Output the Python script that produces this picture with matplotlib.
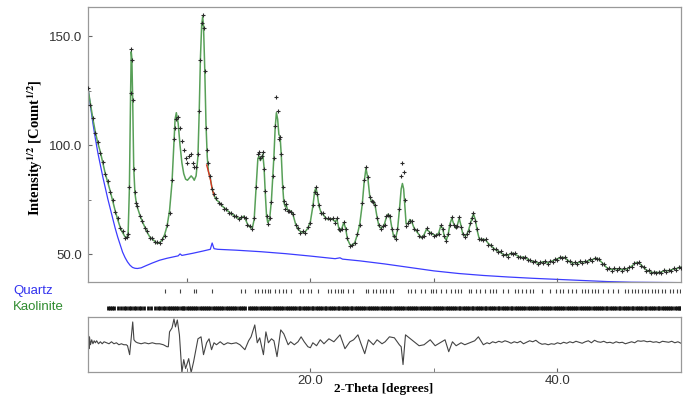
import numpy as np
import matplotlib.pyplot as plt
from matplotlib.ticker import FormatStrFormatter

plt.rcParams['font.family'] = ['Liberation Sans', 'DejaVu Sans']
plt.rcParams['mathtext.fontset'] = 'stix'

# observed / calculated profile (sqrt intensity)
two_theta = [
    2.0, 2.2, 2.4, 2.6, 2.8, 3.0, 3.2, 3.4, 3.6, 3.8,
    4.0, 4.2, 4.4, 4.6, 4.8, 5.0, 5.15, 5.25, 5.35, 5.45,
    5.5, 5.55, 5.62, 5.7, 5.8, 5.9, 6.0, 6.2, 6.4, 6.6,
    6.8, 7.0, 7.2, 7.4, 7.6, 7.8, 8.0, 8.2, 8.4, 8.6,
    8.8, 8.95, 9.05, 9.15, 9.3, 9.45, 9.6, 9.75, 9.9, 10.05,
    10.2, 10.35, 10.5, 10.6, 10.75, 10.9, 11.0, 11.1, 11.2, 11.28,
    11.35, 11.45, 11.55, 11.65, 11.75, 11.9, 12.05, 12.2, 12.4, 12.6,
    12.8, 13.0, 13.2, 13.4, 13.6, 13.8, 14.0, 14.2, 14.4, 14.6,
    14.75, 14.9, 15.1, 15.3, 15.45, 15.6, 15.75, 15.85, 15.95, 16.05,
    16.15, 16.25, 16.35, 16.45, 16.55, 16.7, 16.85, 16.95, 17.05, 17.15,
    17.25, 17.35, 17.45, 17.55, 17.65, 17.75, 17.85, 17.95, 18.05, 18.15,
    18.3, 18.45, 18.6, 18.8, 19.0, 19.2, 19.4, 19.6, 19.8, 20.0,
    20.2, 20.35, 20.45, 20.55, 20.7, 20.85, 21.0, 21.2, 21.4, 21.6,
    21.8, 22.0, 22.15, 22.3, 22.4, 22.55, 22.7, 22.85, 23.0, 23.2,
    23.4, 23.6, 23.8, 24.0, 24.2, 24.35, 24.5, 24.65, 24.8, 24.95,
    25.1, 25.25, 25.4, 25.55, 25.7, 25.85, 26.0, 26.15, 26.3, 26.45,
    26.6, 26.75, 26.9, 27.05, 27.2, 27.35, 27.45, 27.55, 27.65, 27.75,
    27.9, 28.05, 28.2, 28.4, 28.6, 28.8, 29.0, 29.2, 29.4, 29.6,
    29.8, 30.0, 30.2, 30.4, 30.55, 30.7, 30.85, 31.0, 31.15, 31.3,
    31.45, 31.6, 31.75, 31.9, 32.05, 32.2, 32.35, 32.5, 32.65, 32.8,
    32.95, 33.1, 33.2, 33.35, 33.5, 33.65, 33.8, 34.0, 34.2, 34.4,
    34.6, 34.8, 35.0, 35.2, 35.4, 35.6, 35.8, 36.0, 36.2, 36.4,
    36.6, 36.8, 37.0, 37.2, 37.4, 37.6, 37.8, 38.0, 38.2, 38.4,
    38.6, 38.8, 39.0, 39.2, 39.4, 39.6, 39.8, 40.0, 40.2, 40.4,
    40.6, 40.8, 41.0, 41.2, 41.4, 41.6, 41.8, 42.0, 42.2, 42.4,
    42.6, 42.8, 43.0, 43.2, 43.4, 43.6, 43.8, 44.0, 44.2, 44.4,
    44.6, 44.8, 45.0, 45.2, 45.4, 45.6, 45.8, 46.0, 46.2, 46.4,
    46.6, 46.8, 47.0, 47.2, 47.4, 47.6, 47.8, 48.0, 48.2, 48.4,
    48.6, 48.8, 49.0, 49.2, 49.4, 49.6, 49.8, 50.0,
]
y_calc = [
    126, 119, 112, 106, 101, 97, 92, 87, 83, 79,
    74.5, 70, 66, 62.5, 60, 58, 57.5, 60, 80, 125,
    143, 140, 120, 90, 78, 74, 71.5, 68, 65, 62.5,
    60, 58, 57, 56, 55, 55.5, 56.5, 59, 63, 70,
    83, 100, 112, 115, 110, 100, 92, 87, 84.5, 84,
    85, 86, 85, 84, 86, 95, 115, 140, 155, 159,
    155, 135, 110, 95, 88, 85, 80, 77, 75, 74,
    72.5, 71.5, 70.5, 69.5, 68.5, 68, 67, 66.5, 66.5, 67.5,
    66, 64, 62.5, 62, 66, 80, 94, 95, 93, 94,
    96, 90, 78, 68, 64.5, 66, 75, 85, 95, 108,
    115, 112, 105, 104, 95, 82, 74, 72, 72.5, 70.5,
    69.5, 70, 68, 64, 61.5, 60.5, 60, 60.5, 62, 65,
    72, 79, 80.5, 78, 72, 69.5, 68.5, 67, 66, 66.5,
    66, 65, 66, 62, 60.5, 62, 64.5, 62, 57, 54.5,
    54, 55.5, 59, 64, 73, 83, 89.5, 85, 77, 74,
    74.5, 72, 67, 63, 62, 62.5, 64, 67, 68.5, 67,
    62, 58, 57.5, 61, 70, 80, 82.5, 80, 72, 64,
    64, 66, 65, 62, 60.5, 59, 57.5, 59, 61.5, 60.5,
    59.5, 59, 58.5, 60, 63, 62, 58, 56.5, 59, 64,
    66.5, 64, 62, 63.5, 66.5, 63, 59, 58.5, 59, 61,
    64, 67, 68.5, 66, 61, 57.5, 56.5, 57, 56.5, 55,
    54, 53, 52, 51.5, 50.8, 50, 49.5, 49.5, 50.3, 50.5,
    50, 49.2, 48.5, 48.8, 48.4, 47.8, 47, 46.8, 46.5, 46,
    46, 46.6, 46.6, 46, 46.5, 47, 47.5, 48, 48.2, 48.7,
    48.4, 47.5, 46.5, 46, 46.2, 46, 46.4, 46.6, 46.5, 46.8,
    47.2, 47.5, 48, 48.2, 47.4, 46.2, 45, 43.8, 43.2, 43,
    43.2, 43.4, 43.2, 42.9, 43.1, 43.3, 43.8, 44.5, 45.5, 46.3,
    46, 45, 43.8, 42.8, 42.2, 41.8, 41.6, 41.8, 41.6, 41.9,
    42.3, 42.6, 42.4, 42.8, 43.2, 43.4, 43.8, 44.2,
]
y_obs = [
    126.5, 118.5, 112.5, 105.5, 101.5, 96.5, 92.5, 87, 83.5, 78.5,
    75, 69.5, 66.5, 62, 60.5, 57.5, 58, 59.5, 81, 124,
    144, 139, 121, 89, 78.5, 73.5, 72, 67.5, 65.5, 62,
    60.5, 57.5, 57.5, 55.5, 55.5, 55, 57, 58.5, 63.5, 69,
    84, 103, 108, 112, 113, 108, 102, 98, 94, 92,
    95, 96, 92, 90, 90, 96, 116, 139, 156, 160,
    154, 134, 108, 98, 92, 86, 80, 77.5, 76, 73.5,
    73, 71, 71, 69, 69, 67.5, 67.5, 66, 67, 67,
    66.5, 63.5, 63, 61.5, 66.5, 81, 96, 97, 94, 95,
    97, 89, 79, 67.5, 64, 66.5, 74, 86, 94, 109,
    122, 116, 103, 104, 96, 81, 74.5, 71, 73, 70,
    70, 69.5, 68.5, 63.5, 62, 60, 60.5, 60, 62.5, 64.5,
    72.5, 78.5, 81, 77.5, 72.5, 69, 69, 66.5, 66.5, 66,
    66.5, 64.5, 66.5, 61.5, 61, 61.5, 65, 61.5, 57.5, 54,
    54.5, 55, 59.5, 63.5, 73.5, 84, 90, 85.5, 76.5, 74.5,
    74, 72.5, 66.5, 63.5, 61.5, 63, 63.5, 67.5, 68, 67.5,
    61.5, 58.5, 57, 61.5, 71, 86, 92, 88, 75, 63,
    64.5, 65.5, 65.5, 61.5, 61, 58.5, 58, 58.5, 62, 60,
    60, 58.5, 59, 59.5, 63.5, 61.5, 58.5, 56, 59.5, 63.5,
    67, 63.5, 62.5, 63, 67, 62.5, 59.5, 58, 59.5, 60.5,
    64.5, 66.5, 69, 65.5, 61.5, 57, 57, 56.5, 57, 54.5,
    54.5, 52.5, 52.5, 51, 51.3, 49.5, 50, 49, 50.8, 50,
    50.5, 48.7, 49, 48.3, 48.9, 47.3, 47.5, 46.3, 47, 45.5,
    46.5, 46.1, 47.1, 45.5, 47, 46.5, 48, 47.5, 48.7, 48.2,
    48.9, 47, 47, 45.5, 46.7, 45.5, 46.9, 46.1, 47, 46.3,
    47.7, 47, 48.5, 47.7, 47.9, 45.7, 45.5, 43.3, 43.7, 42.5,
    43.7, 42.9, 43.7, 42.4, 43.6, 42.8, 44.3, 44, 46, 45.8,
    46.5, 44.5, 44.3, 42.3, 42.7, 41.3, 42.1, 41.3, 42.1, 41.4,
    42.8, 42.1, 42.9, 42.3, 43.7, 42.9, 44.3, 43.8,
]

# background
bg_theta = [2.0, 2.2, 2.4, 2.6, 2.8, 3.0, 3.2, 3.4, 3.6, 3.8, 4.0, 4.2, 4.4,
            4.6, 4.8, 5.0, 5.2, 5.4, 5.6, 5.8, 6.0, 6.3, 6.7, 7.2, 7.8, 8.4,
            9.3, 9.45, 9.6, 10.5, 11.3, 11.9, 12.05, 12.2, 12.5, 14, 16, 18,
            20, 22, 22.4, 22.6, 24, 26, 28, 30, 32, 34, 36, 38, 40, 42, 44,
            46, 48, 50]
bg_y = [126.5, 118, 110, 103, 96.5, 91, 85.5, 80.5, 75.5, 71, 66.5, 62, 58,
        54.5, 51, 48.5, 46.5, 45, 44, 43.6, 43.5, 43.8, 44.8, 46, 47.3, 48.2,
        49.3, 50.2, 49.5, 50.5, 51.5, 52.3, 55.2, 52.6, 52.3, 51.9, 51.2, 50.3,
        49.2, 48.0, 48.4, 47.8, 47.0, 45.6, 44.0, 42.4, 41.2, 40.3, 39.6, 39.0,
        38.5, 38.0, 37.5, 37.2, 37.1, 37.0]

# short red segment
red_theta = [11.6, 11.75, 11.9, 12.05, 12.2]
red_y = [91, 88, 84.5, 80, 77]

# difference curve
res_theta = [
    2.0, 2.03, 2.08, 2.12, 2.2, 2.3, 2.4, 2.5, 2.6, 2.7, 2.85, 3.0, 3.15, 3.3,
    3.5, 3.7, 3.9, 4.1, 4.3, 4.5, 4.7, 4.9, 5.1, 5.2, 5.37, 5.5, 5.62, 5.72,
    5.85, 6.0, 6.3, 6.6, 6.9, 7.2, 7.5, 7.8, 8.1, 8.4, 8.5, 8.6, 8.8, 8.96,
    9.08, 9.23, 9.4, 9.6, 9.75, 9.9, 10.15, 10.35, 10.55, 10.9, 11.15, 11.35,
    11.6, 11.8, 12.0, 12.2, 12.4, 12.7, 13.0, 13.3, 13.6, 14.0, 14.3, 14.7,
    15.0, 15.2, 15.5, 15.7, 15.9, 16.2, 16.4, 16.6, 16.85, 17.05, 17.3, 17.6,
    17.85, 18.2, 18.4, 18.7, 19.0, 19.25, 19.5, 19.8, 20.0, 20.2, 20.5, 20.8,
    21.1, 21.5, 21.9, 22.4, 22.8, 23.2, 23.5, 23.85, 24.1, 24.4, 24.7, 25.1,
    25.4, 25.8, 26.05, 26.4, 26.8, 27.2, 27.35, 27.5, 27.7, 28.0, 28.4, 28.8,
    29.2, 29.7, 30.1, 30.5, 30.9, 31.2, 31.5, 31.8, 32.2, 32.5, 32.9, 33.3,
    33.6, 34.0, 34.3, 34.5, 34.75, 35.0, 35.25, 35.5, 35.75, 36.0, 36.25,
    36.5, 36.75, 37.0, 37.25, 37.5, 37.75, 38.0, 38.25, 38.5, 38.75, 39.0,
    39.25, 39.5, 39.75, 40.0, 40.25, 40.5, 40.75, 41.0, 41.25, 41.5, 41.75,
    42.0, 42.25, 42.5, 42.75, 43.0, 43.25, 43.5, 43.75, 44.0, 44.25, 44.5,
    44.75, 45.0, 45.25, 45.5, 45.75, 46.0, 46.25, 46.5, 46.75, 47.0, 47.25,
    47.5, 47.75, 48.0, 48.25, 48.5, 48.75, 49.0, 49.25, 49.5, 49.75, 50.0,
]
res_diff = [
    -14, 11, -6, 6, -2, 3, -1, 2, 0, 2, -1, 1, -1, 1,
    0, -1, 1, -1, 0, -2, -1, -2, -2, -3, -12, 5, 21, 3,
    1, 0, -1, 0, -1, 0, -1, -1, -2, -4, -4, 11, 15, 24,
    16, 23, 8, -30, -17, -26, -16, -30, -19, 4, 6, -12,
    0, 4, -7, 0, -2, 1, -2, 0, -1, 0, -2, -7,
    2, 6, 18, 0, 5, -12, 11, 0, 4, 2, -14, 13,
    9, -2, 1, -2, 1, 6, 1, -4, -5, 0, -3, 3,
    -1, 4, 1, 8, -6, 1, 3, 8, -1, -11, 3, -2,
    3, -1, 1, 6, 5, -2, -4, -22, 8, 5, 1, -3,
    -2, 3, -3, 0, 3, -9, 1, -3, 0, -2, 0, 2,
    6, -2, 0, -1, 1, 0, 1.5, 0.5, 2, 1, -0.5,
    1, 0, 1.5, -1, 0.5, 2, 1, 2.5, 0, -1.5, -1,
    -2, -1, -1.5, 0, -1, 0.5, -0.5, 1, 0, 1.5, 0.5,
    -0.5, 1, 2, 0, 2.5, 1, 0.5, 1.5, 0, 0.5, -0.5,
    1, 0, 0.5, -1, 0, 1, 0, 2, 1.5, 2, 1,
    1.5, 0.5, 1, 0, 1.5, 1, 0.5, 1.5, 0, 1, -0.5,
]

# reflection positions
quartz = [8.26, 9.48, 10.55, 10.75, 12.05, 14.4, 14.7, 15.5, 15.8, 16.05,
          16.3, 16.55, 16.7, 17.1, 17.5, 17.8, 18.05, 18.46, 19.13, 19.4,
          19.81, 20.08, 20.62, 21.43, 21.7, 21.97, 22.24, 22.51, 22.64, 23.05,
          23.45, 24.53, 24.67, 25.07, 25.34, 25.61, 25.88, 26.15, 26.42, 26.69,
          27.91, 28.18, 28.45, 28.99, 29.26, 29.8, 29.93, 30.2, 30.6, 31.0,
          31.4, 31.7, 31.95, 32.2, 32.8, 33.0, 33.4, 33.7, 34.1, 34.52,
          34.79, 35.06, 35.6, 36.0, 36.55, 36.82, 37.09, 37.49, 37.76, 38.03,
          38.71, 39.38, 39.92, 40.19, 40.46, 40.87, 41.14, 41.54, 41.95, 42.22,
          42.49, 42.76, 43.03, 43.3, 43.7, 44.11, 44.51, 44.92, 45.46, 45.73,
          46.0, 46.27, 46.54, 46.81, 47.08, 47.35, 47.62, 47.89, 48.16, 48.43,
          48.7, 49.1, 49.37, 49.64, 49.91]
kaolinite = [
    3.65, 3.8, 3.95, 4.1, 4.45, 4.7, 4.9, 5.1, 5.3, 5.5, 5.7, 5.9, 6.1, 6.3,
    6.5, 6.85, 7.1, 7.45, 7.65, 7.85, 8.05, 8.25, 8.45, 8.6, 8.8, 8.95, 9.15,
    9.3, 9.5, 9.65, 9.8, 10.0, 10.15, 10.35, 10.5, 10.7, 10.85, 11.05, 11.2,
    11.4, 11.55, 11.75, 11.9, 12.1, 12.25, 12.45, 12.6, 12.8, 12.95, 13.15,
    13.3, 13.5, 13.65, 13.85, 14.0, 14.2, 14.35, 14.55, 14.7, 15.0, 15.2,
    15.35, 15.55, 15.7, 15.9, 16.05, 16.25, 16.4, 16.6, 16.75, 16.95, 17.1,
    17.3, 17.45, 17.65, 17.8, 18.0, 18.15, 18.35, 18.5, 18.7, 18.85, 19.05,
    19.2, 19.4, 19.55, 19.75, 19.9, 20.1, 20.25, 20.45, 20.6, 20.8, 20.95,
    21.15, 21.3, 21.5, 21.65, 21.85, 22.0, 22.2, 22.35, 22.55, 22.7, 22.9,
    23.05, 23.25, 23.4, 23.6, 23.75, 23.95, 24.1, 24.3, 24.45, 24.65, 24.8,
    25.0, 25.15, 25.35, 25.5, 25.7, 25.85, 26.05, 26.2, 26.4, 26.55, 26.75,
    26.9, 27.1, 27.25, 27.45, 27.6, 27.8, 27.95, 28.15, 28.3, 28.5, 28.65,
    28.85, 29.0, 29.2, 29.35, 29.55, 29.7, 29.9, 30.05, 30.25, 30.4, 30.6,
    30.75, 30.95, 31.1, 31.3, 31.45, 31.65, 31.8, 32.0, 32.15, 32.35, 32.5,
    32.7, 32.85, 33.05, 33.2, 33.4, 33.55, 33.75, 33.9, 34.1, 34.25, 34.45,
    34.6, 34.8, 34.95, 35.15, 35.3, 35.5, 35.65, 35.85, 36.0, 36.2, 36.35,
    36.55, 36.7, 36.9, 37.05, 37.25, 37.4, 37.6, 37.75, 37.95, 38.1, 38.3,
    38.45, 38.65, 38.8, 39.0, 39.15, 39.35, 39.5, 39.7, 39.85, 40.05, 40.2,
    40.4, 40.55, 40.75, 40.9, 41.1, 41.25, 41.45, 41.6, 41.8, 41.95, 42.15,
    42.3, 42.5, 42.65, 42.85, 43.0, 43.2, 43.35, 43.55, 43.7, 43.9, 44.05,
    44.25, 44.4, 44.6, 44.75, 44.95, 45.1, 45.3, 45.45, 45.65, 45.8, 46.0,
    46.15, 46.35, 46.5, 46.7, 46.85, 47.05, 47.2, 47.4, 47.55, 47.75, 47.9,
    48.1, 48.25, 48.45, 48.6, 48.8, 48.95, 49.15, 49.3, 49.5, 49.65, 49.85,
    49.95,
]

W, H = 691, 399
fig = plt.figure(figsize=(W / 100, H / 100), dpi=100)
ax = fig.add_axes([88 / W, 1 - 282 / H, 593 / W, 275 / H])
ax_ref = fig.add_axes([88 / W, 1 - 315 / H, 593 / W, 31 / H])
ax_res = fig.add_axes([88 / W, 1 - 372 / H, 593 / W, 55 / H])

ax.plot(bg_theta, bg_y, color='#3c3cff', lw=0.9, zorder=1)
ax.plot(two_theta, y_calc, color='#58a058', lw=1.1, zorder=2)
ax.plot(red_theta, red_y, color='#e03020', lw=0.9, zorder=2.5)
ax.plot(two_theta, y_obs, ls='none', marker='+', ms=3.5, mew=0.8,
        color='#2a2a2a', zorder=3)
ax.set_xlim(2, 50)
ax.set_ylim(37.3, 163.5)
ax.set_xticks([10, 20, 30, 40])
ax.set_xticklabels([])
ax.set_yticks([50, 100, 150])
ax.set_yticks([75, 125], minor=True)
ax.yaxis.set_major_formatter(FormatStrFormatter('%.1f'))
ax.tick_params(which='both', direction='in', length=3, color='#666666',
               labelsize=9.5, labelcolor='#333333', pad=4)
ax.tick_params(which='minor', length=2)

ax_ref.vlines(quartz, 22.5, 26.5, color='#444444', lw=0.8)
ax_ref.vlines(kaolinite, 5, 9.5, color='#111111', lw=2.0)
ax_ref.set_xlim(2, 50)
ax_ref.set_ylim(0, 31)
ax_ref.axis('off')

ax_res.plot(res_theta, res_diff, color='#444444', lw=0.8)
ax_res.set_xlim(2, 50)
ax_res.set_ylim(-29.5, 26)
ax_res.set_xticks([20, 40])
ax_res.set_xticklabels(['20.0', '40.0'])
ax_res.set_xticks([10, 30], minor=True)
ax_res.set_yticks([])
ax_res.tick_params(which='both', direction='in', length=3, color='#666666',
                   labelsize=9.5, labelcolor='#333333', pad=2)

for a in (ax, ax_res):
    for s in a.spines.values():
        s.set_color('#999999')
        s.set_linewidth(0.9)

fig.text(35 / W, 1 - 148 / H, r'Intensity$^{\mathbf{1/2}}$ [Count$^{\mathbf{1/2}}$]',
         rotation=90, family='Liberation Serif', weight='bold', size=10.5,
         ha='center', va='center')
fig.text(384 / W, 1 - 389 / H, '2-Theta [degrees]', family='Liberation Serif',
         weight='bold', size=9.5, ha='center', va='center')
fig.text(13 / W, 1 - 291 / H, 'Quartz', color='#3333ee', size=9.5, va='center')
fig.text(13 / W, 1 - 307 / H, 'Kaolinite', color='#2e8b2e', size=9.5, va='center')

fig.savefig('out.png', dpi=100)
